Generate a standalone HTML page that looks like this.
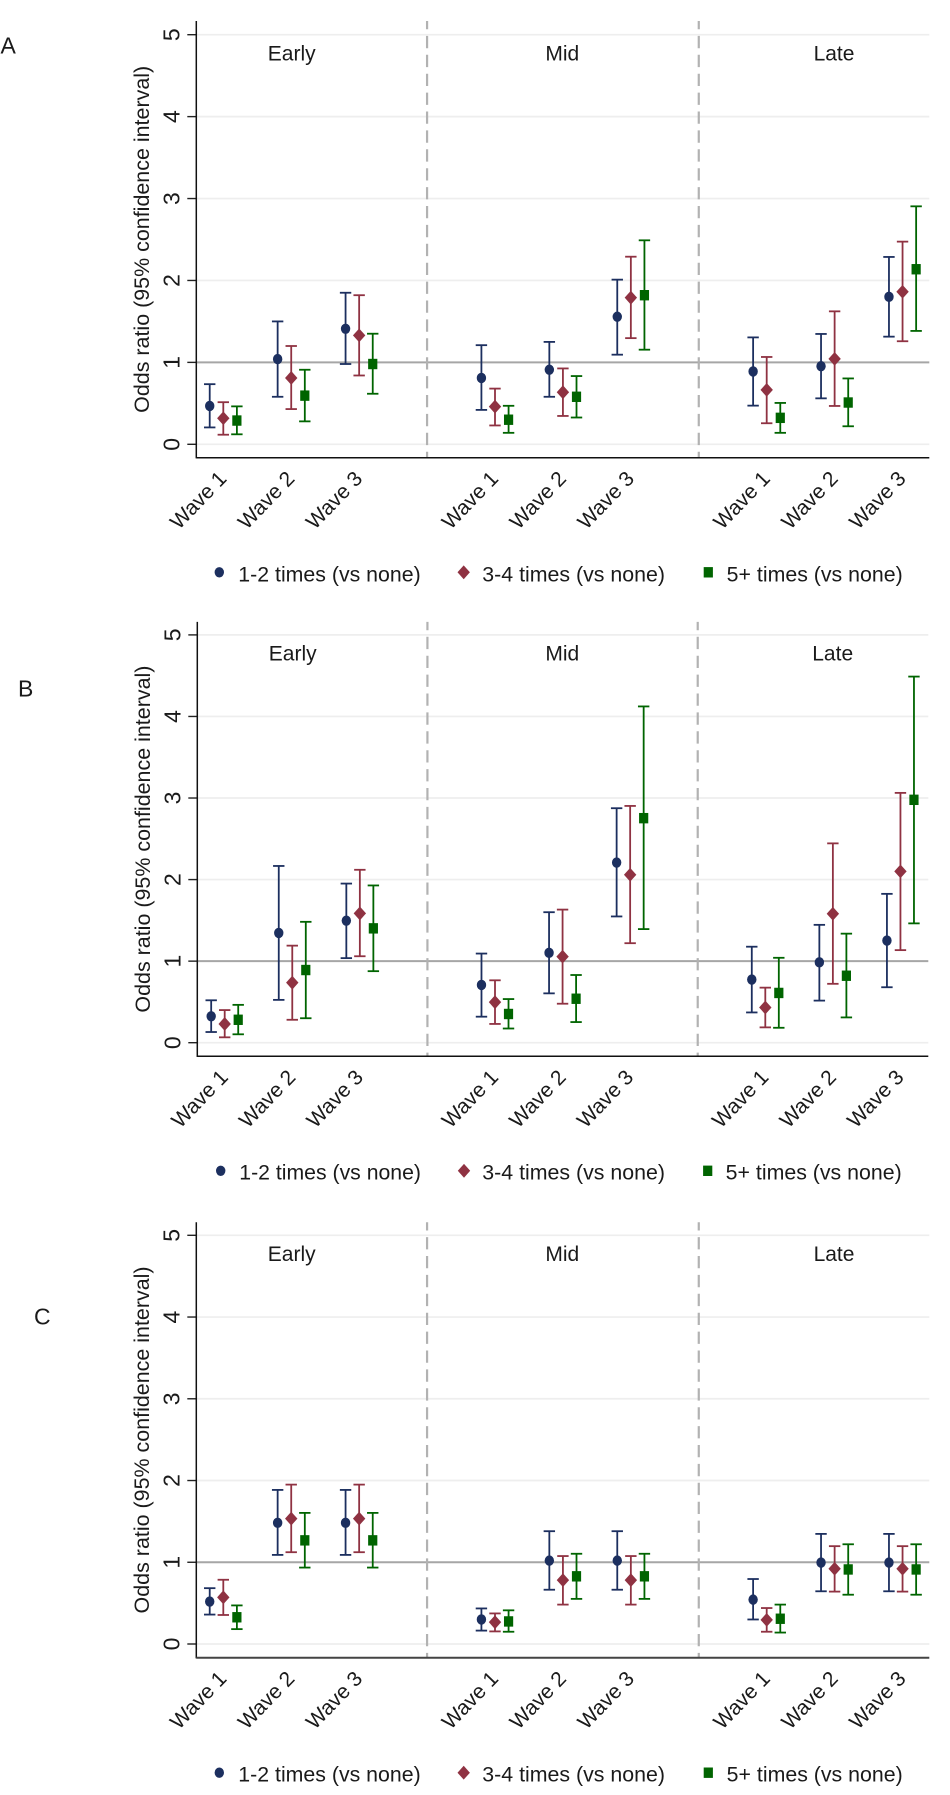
<!DOCTYPE html>
<html lang="en">
<head>
<meta charset="utf-8">
<title>Odds ratio by wave and period</title>
<style>
html,body{margin:0;padding:0;background:#fff;}
svg{display:block;}
text{font-family:"Liberation Sans",sans-serif;fill:#1a1a1a;}
</style>
</head>
<body>
<svg id="figure" xmlns="http://www.w3.org/2000/svg" width="950" height="1795" viewBox="0 0 950 1795"></svg>
<script>
const periods = ["Early", "Mid", "Late"];
const waves = ["Wave 1", "Wave 2", "Wave 3"];
const seriesLabels = ["1-2 times (vs none)", "3-4 times (vs none)", "5+ times (vs none)"];
const yTicks = [0, 1, 2, 3, 4, 5];
const panelLetters = ["A", "B", "C"];
const yTitle = "Odds ratio (95% confidence interval)";

// Panel A, nine values each: Early W1-3, Mid W1-3, Late W1-3
const aMid1 = [0.468, 1.04, 1.41, 0.81, 0.91, 1.557, 0.889, 0.954, 1.80];
const aLo1 = [0.206, 0.58, 0.98, 0.42, 0.58, 1.094, 0.472, 0.561, 1.314];
const aHi1 = [0.734, 1.50, 1.85, 1.21, 1.25, 2.01, 1.305, 1.347, 2.287];
const aMid2 = [0.318, 0.81, 1.33, 0.46, 0.636, 1.79, 0.664, 1.043, 1.862];
const aLo2 = [0.117, 0.43, 0.84, 0.23, 0.346, 1.296, 0.257, 0.468, 1.258];
const aHi2 = [0.514, 1.20, 1.82, 0.68, 0.926, 2.29, 1.066, 1.623, 2.474];
const aMid3 = [0.29, 0.594, 0.98, 0.30, 0.58, 1.82, 0.323, 0.51, 2.137];
const aLo3 = [0.122, 0.28, 0.617, 0.14, 0.327, 1.155, 0.14, 0.22, 1.384];
const aHi3 = [0.463, 0.91, 1.35, 0.47, 0.833, 2.49, 0.505, 0.804, 2.905];

// Panel B
const bMid1 = [0.324, 1.346, 1.496, 0.708, 1.102, 2.209, 0.774, 0.985, 1.252];
const bLo1 = [0.131, 0.525, 1.037, 0.319, 0.605, 1.548, 0.371, 0.516, 0.68];
const bHi1 = [0.52, 2.167, 1.951, 1.093, 1.60, 2.875, 1.177, 1.445, 1.825];
const bMid2 = [0.23, 0.736, 1.585, 0.497, 1.055, 2.059, 0.432, 1.581, 2.101];
const bLo2 = [0.066, 0.281, 1.06, 0.23, 0.478, 1.22, 0.188, 0.722, 1.135];
const bHi2 = [0.40, 1.19, 2.12, 0.765, 1.632, 2.903, 0.675, 2.444, 3.063];
const bMid3 = [0.281, 0.891, 1.402, 0.352, 0.539, 2.753, 0.61, 0.821, 2.978];
const bLo3 = [0.103, 0.30, 0.877, 0.174, 0.253, 1.393, 0.183, 0.31, 1.463];
const bHi3 = [0.464, 1.482, 1.928, 0.535, 0.83, 4.123, 1.041, 1.337, 4.489];

// Panel C
const cMid1 = [0.519, 1.483, 1.483, 0.30, 1.02, 1.02, 0.543, 0.996, 0.996];
const cLo1 = [0.36, 1.09, 1.09, 0.164, 0.664, 0.664, 0.30, 0.645, 0.645];
const cHi1 = [0.683, 1.885, 1.885, 0.435, 1.38, 1.38, 0.795, 1.347, 1.347];
const cMid2 = [0.571, 1.534, 1.534, 0.267, 0.781, 0.781, 0.295, 0.921, 0.921];
const cLo2 = [0.355, 1.123, 1.123, 0.154, 0.482, 0.482, 0.15, 0.641, 0.641];
const cHi2 = [0.786, 1.95, 1.95, 0.374, 1.076, 1.076, 0.44, 1.197, 1.197];
const cMid3 = [0.327, 1.268, 1.268, 0.276, 0.828, 0.828, 0.309, 0.912, 0.912];
const cLo3 = [0.182, 0.935, 0.935, 0.15, 0.552, 0.552, 0.14, 0.603, 0.603];
const cHi3 = [0.472, 1.604, 1.604, 0.412, 1.104, 1.104, 0.482, 1.22, 1.22];

const panelValues = [
  [[aMid1, aLo1, aHi1], [aMid2, aLo2, aHi2], [aMid3, aLo3, aHi3]],
  [[bMid1, bLo1, bHi1], [bMid2, bLo2, bHi2], [bMid3, bLo3, bHi3]],
  [[cMid1, cLo1, cHi1], [cMid2, cLo2, cHi2], [cMid3, cLo3, cHi3]]
];

// Layout (not data)
const SVGNS = "http://www.w3.org/2000/svg";
const colors = ["#1c2f5f", "#8f3242", "#006400"];
const layouts = [
  {axisX:196.3, right:929.3, top:21, bottom:457.7, y5:34.7, y0:444.3, x1:223.3, x5:495, titleY:60.3, titleXs:[291.7,562.3,834],
   letterX:0.5, letterY:53.7, legY:572.3, legBase:581.5, legMarkX:[219.3,463.7,708.3], legTextX:[238.3,482.3,726.7], legW:[182.4,182.7,176], axisColor:"#111", axisWidth:1.5},
  {axisX:197.3, right:928.3, top:621.9, bottom:1056.3, y5:634.9, y0:1042.7, x1:224.7, x5:495, titleY:660.6, titleXs:[292.7,562.3,832.7],
   letterX:18, letterY:696.6, legY:1170.8, legBase:1179.6, legMarkX:[220.7,464,707.7], legTextX:[239.3,482.3,725.7], legW:[181.7,182.7,176], axisColor:"#111", axisWidth:1.5},
  {axisX:196.3, right:929.3, top:1222.2, bottom:1657.7, y5:1235.3, y0:1644, x1:223.3, x5:495, titleY:1260.9, titleXs:[291.7,562.3,834],
   letterX:34, letterY:1324.6, legY:1772.7, legBase:1781.5, legMarkX:[219.3,463.7,708.3], legTextX:[238.3,482.3,726.7], legW:[182.4,182.7,176], axisColor:"#444", axisWidth:2}
];
const OFFSET = 0.2;
const CAP = 5.7;

const svg = document.getElementById("figure");

function make(parent, tag, attrs, txt) {
  const el = document.createElementNS(SVGNS, tag);
  for (const k in attrs) el.setAttribute(k, attrs[k]);
  if (txt !== undefined) el.textContent = txt;
  parent.appendChild(el);
  return el;
}
function named(el, name) {
  
  
  return el;
}
function xScale(L, pos) { return L.x1 + (pos - 1) * (L.x5 - L.x1) / 4; }
function yScale(L, v) { return L.y0 + v * (L.y5 - L.y0) / 5; }

function drawMarker(g, kind, cx, cy, color) {
  if (kind === 0) return make(g, "ellipse", {cx: cx, cy: cy, rx: 4.7, ry: 5.2, fill: color});
  if (kind === 1) return make(g, "path", {d: `M${cx} ${cy-6.9}L${cx+6.2} ${cy}L${cx} ${cy+6.9}L${cx-6.2} ${cy}Z`, fill: color});
  return make(g, "rect", {x: cx-4.6, y: cy-5.2, width: 9.2, height: 10.4, fill: color});
}

panelValues.forEach((values, p) => {
  const L = layouts[p];
  const panel = make(svg, "g", {});
  named(panel, 'panel-' + panelLetters[p].toLowerCase());

  const letter = make(panel, "text", {x: L.letterX, y: L.letterY, "font-size": 23}, panelLetters[p]);
  named(letter, 'panel-letter');

  // gridlines
  yTicks.forEach(t => {
    const y = yScale(L, t);
    const grid = make(panel, "line", {x1: L.axisX, x2: L.right, y1: y, y2: y,
      stroke: t === 1 ? "#a6a6a6" : "#eeeeee", "stroke-width": t === 1 ? 2 : 1.7});
    named(grid, t === 1 ? 'reference-line-one' : 'gridline');
    const tick = make(panel, "line", {x1: L.axisX - 9, x2: L.axisX, y1: y, y2: y, stroke: "#222", "stroke-width": 1.4});
    named(tick, 'y-tick');
    const lx = L.axisX - 17;
    const label = make(panel, "text", {x: lx, y: y, "font-size": 23, "text-anchor": "middle",
      transform: `rotate(-90 ${lx} ${y})`}, String(t));
    named(label, 'y-tick-label');
  });

  // period separators
  [4, 8].forEach(pos => {
    const x = xScale(L, pos);
    const sep = make(panel, "line", {x1: x, x2: x, y1: L.top, y2: L.bottom, stroke: "#b2b2b2",
      "stroke-width": 2.2, "stroke-dasharray": "12.3 6.6", "stroke-dashoffset": 4});
    named(sep, 'period-separator');
  });

  // axes
  const yAxis = make(panel, "line", {x1: L.axisX, x2: L.axisX, y1: L.top, y2: L.bottom + 0.7, stroke: "#111", "stroke-width": 1.5});
  named(yAxis, 'y-axis');
  const xAxis = make(panel, "line", {x1: L.axisX, x2: L.right, y1: L.bottom, y2: L.bottom, stroke: L.axisColor, "stroke-width": L.axisWidth});
  named(xAxis, 'x-axis');

  // y title
  const tx = L.axisX - 47.5;
  const ty = (L.top + L.bottom) / 2;
  const title = make(panel, "text", {x: tx, y: ty, "font-size": 21.5, "text-anchor": "middle", textLength: 347,
    lengthAdjust: "spacingAndGlyphs", transform: `rotate(-90 ${tx} ${ty})`}, yTitle);
  named(title, 'y-axis-title');

  // period titles
  periods.forEach((name, i) => {
    const t = make(panel, "text", {x: L.titleXs[i], y: L.titleY, "font-size": 21, "text-anchor": "middle"}, name);
    named(t, 'period-title');
  });

  // wave labels and marks
  periods.forEach((period, pi) => {
    waves.forEach((wave, wi) => {
      const idx = pi * 3 + wi;
      const pos = pi * 4 + wi + 1;
      const cx = xScale(L, pos);
      const lx = cx + 4.5;
      const ly = L.bottom + 22;
      const wl = make(panel, "text", {x: lx, y: ly, "font-size": 21, "text-anchor": "end",
        transform: `rotate(-46 ${lx} ${ly})`}, wave);
      named(wl, 'x-tick-label');

      values.forEach((trio, s) => {
        const x = xScale(L, pos + (s - 1) * OFFSET);
        const yMid = yScale(L, trio[0][idx]);
        const yLo = yScale(L, trio[1][idx]);
        const yHi = yScale(L, trio[2][idx]);
        const g = make(panel, "g", {});
        
        
        const c = colors[s];
        make(g, "line", {x1: x, x2: x, y1: yLo, y2: yHi, stroke: c, "stroke-width": 1.8});
        make(g, "line", {x1: x - CAP, x2: x + CAP, y1: yHi, y2: yHi, stroke: c, "stroke-width": 1.8});
        make(g, "line", {x1: x - CAP, x2: x + CAP, y1: yLo, y2: yLo, stroke: c, "stroke-width": 1.8});
        drawMarker(g, s, x, yMid, c);
      });
    });
  });

  // legend
  seriesLabels.forEach((label, s) => {
    const g = make(panel, "g", {});
    
    
    drawMarker(g, s, L.legMarkX[s], L.legY, colors[s]);
    make(g, "text", {x: L.legTextX[s], y: L.legBase, "font-size": 21, textLength: L.legW[s],
      lengthAdjust: "spacingAndGlyphs"}, label);
  });
});
</script>
</body>
</html>
